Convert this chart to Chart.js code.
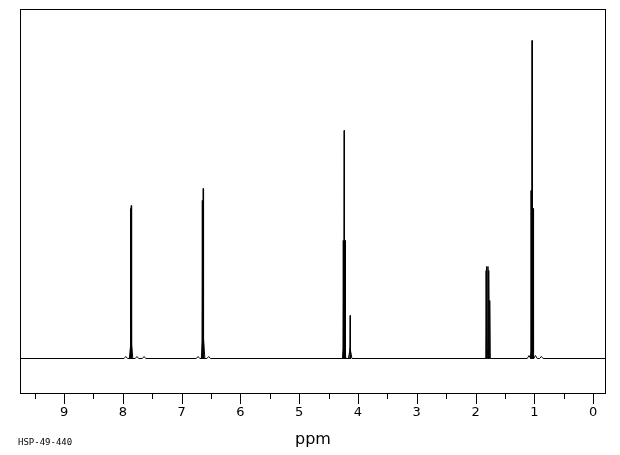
<!DOCTYPE html>
<html>
<head>
<meta charset="utf-8">
<script src="https://cdn.jsdelivr.net/npm/chart.js@4.4.0/dist/chart.umd.min.js"></script>
<style>
    html, body { margin: 0; padding: 0; background: #ffffff; }
    #wrap { width: 620px; height: 455px; position: relative; }
</style>
</head>
<body>
<div id="wrap"><canvas id="nmrChart"></canvas></div>
<script>
// Spectrum data (chemical shift in ppm, intensity in arbitrary units)
const xRange = [9.75, -0.22];
const yRange = [-34.5, 349.5];
const majorTicks = [9, 8, 7, 6, 5, 4, 3, 2, 1, 0];
const minorTicks = [9.5, 8.5, 7.5, 6.5, 5.5, 4.5, 3.5, 2.5, 1.5, 0.5];

// sharp lines
const lineShifts = [7.872, 7.857, 6.648, 6.633, 4.250, 4.235, 4.220, 4.133, 1.820, 1.805, 1.788, 1.772, 1.755, 1.055, 1.038, 1.021];
const lineHeights = [150, 153, 158, 170, 118, 228, 118, 43, 88, 92, 92, 88, 58, 168, 318, 150];

// broad feet and small bumps under the lines
const footShifts = [7.95, 7.86, 7.76, 7.64, 6.72, 6.635, 6.54, 4.235, 4.133, 1.79, 1.09, 1.038, 0.98, 0.88];
const footHeights = [2, 18, 2, 2, 2, 26, 2, 15, 10, 8, 3, 12, 3, 2];

const labelText = 'HSP-49-440';
const axisTitle = 'ppm';

function buildSpectrum() {
    const marks = [];
    lineShifts.forEach(function(s, i) {
        marks.push({ s: s, h: lineHeights[i], w: 0.006 });
    });
    footShifts.forEach(function(s, i) {
        marks.push({ s: s, h: footHeights[i], w: 0.03 });
    });
    marks.sort(function(a, b) { return b.s - a.s; });

    const pts = [{ x: xRange[0], y: 0 }];
    marks.forEach(function(m) {
        pts.push({ x: m.s + m.w, y: 0 });
        pts.push({ x: m.s, y: m.h });
        pts.push({ x: m.s - m.w, y: 0 });
    });
    pts.push({ x: xRange[1], y: 0 });
    return pts;
}

const frame = {
    id: 'frame',
    afterDraw: function(chart) {
        const ctx = chart.ctx;
        const a = chart.chartArea;
        const xs = chart.scales.x;
        ctx.save();
        ctx.strokeStyle = '#000000';
        ctx.lineWidth = 1;
        ctx.strokeRect(Math.round(a.left) + 0.5, Math.round(a.top) + 0.5,
            Math.round(a.right - a.left) - 1, Math.round(a.bottom - a.top));

        ctx.beginPath();
        majorTicks.forEach(function(v) {
            const x = Math.round(xs.getPixelForValue(v)) + 0.5;
            ctx.moveTo(x, a.bottom);
            ctx.lineTo(x, a.bottom + 11);
        });
        minorTicks.forEach(function(v) {
            const x = Math.round(xs.getPixelForValue(v)) + 0.5;
            ctx.moveTo(x, a.bottom);
            ctx.lineTo(x, a.bottom + 6);
        });
        ctx.stroke();

        ctx.fillStyle = '#000000';
        ctx.textAlign = 'center';
        ctx.textBaseline = 'middle';
        ctx.font = '16px "DejaVu Sans"';
        ctx.fillText(axisTitle, (a.left + a.right) / 2, 440);

        ctx.textAlign = 'left';
        ctx.font = '9px "DejaVu Sans Mono"';
        ctx.fillText(labelText, 18, 443);
        ctx.restore();
    }
};

new Chart(document.getElementById('nmrChart').getContext('2d'), {
    type: 'line',
    data: {
        datasets: [{
            data: buildSpectrum(),
            borderColor: '#000000',
            borderWidth: 1,
            pointRadius: 0,
            tension: 0,
            fill: false
        }]
    },
    options: {
        responsive: true,
        maintainAspectRatio: false,
        animation: false,
        layout: {
            padding: { left: 20, top: 9, right: 14, bottom: 0 }
        },
        scales: {
            x: {
                type: 'linear',
                reverse: true,
                min: xRange[1],
                max: xRange[0],
                afterBuildTicks: function(scale) {
                    scale.ticks = majorTicks.map(function(v) { return { value: v }; });
                },
                afterFit: function(scale) {
                    scale.height = 62;
                },
                grid: { display: false, drawTicks: false },
                border: { display: false },
                ticks: {
                    padding: 12,
                    maxRotation: 0,
                    autoSkip: false,
                    color: '#000000',
                    font: { family: 'DejaVu Sans', size: 13 }
                }
            },
            y: {
                display: false,
                min: yRange[0],
                max: yRange[1]
            }
        },
        plugins: {
            legend: { display: false },
            tooltip: { enabled: false }
        }
    },
    plugins: [frame]
});
</script>
</body>
</html>
